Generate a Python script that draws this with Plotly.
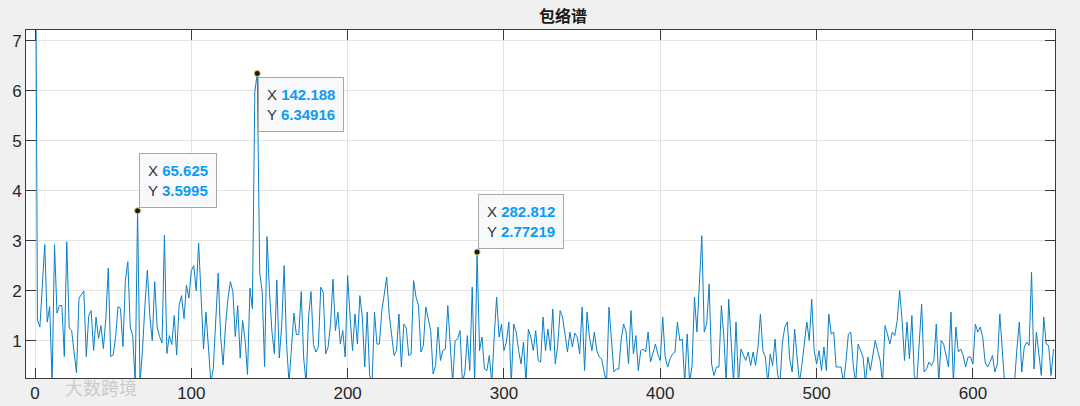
import plotly.graph_objects as go

TITLE = "包络谱"
FREQ_STEP = 1.5625  # frequency resolution of the spectrum

# Envelope spectrum amplitudes, split by frequency band
amp_0_57 = [12.0, 1.41, 1.27, 2.1, 2.92, 1.37, 1.68, 0.15, 2.92, 1.55,
            1.7, 1.7, 0.68, 2.98, 1.25, 1.2, 0.7, 0.35, 1.85, 1.93,
            1.99, 0.68, 1.5, 1.6, 0.8, 1.47, 1.04, 1.3, 0.84, 1.44,
            2.45, 0.68, 0.71, 1.08, 1.68, 1.64, 0.88]
amp_58_117 = [2.2, 2.58, 1.27,
              1.1, 0.15, 3.5995, 0.15, 0.8, 1.7, 2.41, 1.5, 1.0, 2.18,
              1.27, 1.08, 0.95, 3.11, 0.74, 1.1, 0.92, 1.5, 0.71, 1.7,
              1.9, 1.44, 2.11, 1.85, 2.4, 2.5, 2.0, 2.95, 1.8, 0.83,
              1.57, 0.83, 0.15, 0.45, 1.4, 2.35]
amp_119_178 = [1.08, 0.51, 1.3, 1.84,
               2.18, 1.98, 1.08, 1.7, 0.65, 1.4, 1.02, 0.32, 2.05, 1.64,
               5.99, 6.34916, 2.35, 1.98, 0.48, 3.08, 1.98, 1.18, 0.74, 2.21,
               0.65, 1.3, 2.5, 0.92, 0.15, 0.95, 1.55, 1.12, 1.12, 1.98,
               0.65, 0.15, 1.47, 1.98, 0.92]
amp_180_239 = [0.77, 0.87, 2.07, 1.97, 0.73,
               0.87, 1.33, 2.23, 1.2, 1.57, 0.93, 1.2, 0.67, 2.3, 1.47,
               0.8, 1.53, 0.93, 1.9, 1.47, 0.47, 1.57, 0.3, 0.15, 1.57,
               0.93, 0.93, 1.6, 1.93, 2.27, 1.53, 1.07, 0.7, 0.8, 1.53,
               0.47, 1.33, 1.25, 0.7]
amp_241_298 = [0.73, 2.2, 1.87, 1.7, 0.77, 0.9,
               1.67, 1.4, 1.2, 0.33, 0.5, 1.27, 0.6, 0.8, 0.83, 1.7,
               0.87, 0.15, 1.0, 1.03, 1.2, 0.15, 0.37, 1.1, 0.4, 2.07,
               0.15, 2.77219, 0.8, 1.07, 0.43, 0.4, 0.7, 0.15, 1.07, 1.87,
               1.07]
amp_298_359 = [1.33, 0.8, 0.97, 1.37, 0.15, 1.33, 1.17, 0.8, 0.53,
               0.97, 0.15, 1.23, 1.07, 0.8, 1.2, 0.6, 0.57, 1.47, 0.8,
               1.23, 0.8, 1.63, 0.53, 0.9, 1.6, 1.47, 1.07, 0.77, 1.17,
               0.87, 1.15, 1.07, 0.73, 1.67, 0.4, 1.57, 1.07, 0.8, 1.17,
               0.8]
amp_361_420 = [0.67, 0.63, 0.37, 0.15, 1.67, 1.07, 0.37, 0.43, 0.43,
               1.03, 1.33, 1.17, 0.53, 1.6, 0.73, 1.1, 0.4, 0.8, 0.83,
               0.77, 1.17, 0.57, 0.73, 0.93, 0.73, 0.6, 1.47, 0.67, 0.47,
               0.63, 0.73, 0.77, 1.37, 1.0, 1.03, 0.15, 1.13, 0.15, 0.5]
amp_422_480 = [1.87, 1.17, 2.2, 3.1, 1.17, 1.33, 2.13, 0.53, 0.3, 0.47,
               0.47, 1.7, 1.1, 0.15, 1.83, 1.0, 0.15, 1.37, 0.15, 0.83,
               0.7, 0.6, 0.77, 0.5, 0.77, 0.5, 0.87, 1.53, 0.8, 0.67,
               0.15, 0.73, 0.5, 1.03, 0.33, 0.15, 0.97, 1.27]
amp_481_539 = [1.37, 0.63,
               0.37, 1.23, 0.67, 0.15, 0.53, 1.0, 1.37, 1.0, 1.83, 0.8,
               0.53, 0.8, 0.4, 0.87, 0.4, 1.53, 1.13, 1.17, 0.47, 0.47,
               0.47, 0.15, 0.57, 1.13, 1.17, 0.5, 0.15, 0.93, 0.8, 0.67,
               0.15, 0.67, 0.4, 0.7, 1.0, 0.8]
amp_541_600 = [0.6, 0.15, 1.3, 1.13,
               0.93, 1.17, 1.1, 1.4, 2.0, 1.4, 0.6, 1.37, 0.63, 1.5,
               0.3, 0.15, 1.03, 1.73, 0.37, 0.43, 0.57, 0.5, 0.6, 1.33,
               0.15, 1.0, 0.93, 0.7, 0.47, 1.57, 0.15, 1.27, 0.77, 0.83,
               0.7, 0.47, 0.67, 0.67, 0.53]
amp_602_652 = [1.33, 1.17, 1.27, 1.07, 0.57,
               0.47, 0.57, 0.7, 0.37, 0.53, 1.53, 0.67, 0.12, 0.08, 0.1,
               0.12, 0.15, 0.83, 1.37, 0.37, 0.87, 0.97, 0.9, 2.37, 0.43,
               1.17, 0.67, 0.3, 1.47, 0.93, 0.9, 0.3, 0.83]

amplitude = (amp_0_57 + amp_58_117 + amp_119_178 + amp_180_239 + amp_241_298
             + amp_298_359 + amp_361_420 + amp_422_480 + amp_481_539
             + amp_541_600 + amp_602_652)
frequency = [i * FREQ_STEP for i in range(len(amplitude))]

# Data tips
tip_x = [65.625, 142.188, 282.812]
tip_y = [3.5995, 6.34916, 2.77219]
tip_x_text = ["65.625", "142.188", "282.812"]
tip_y_text = ["3.5995", "6.34916", "2.77219"]
tip_anchor = ["bottom", "top", "bottom"]

x_ticks = [0, 100, 200, 300, 400, 500, 600]
y_ticks = [1, 2, 3, 4, 5, 6, 7]
x_range = [-5.76, 652.5]
y_range = [0.25, 7.22]

LINE_BLUE = "#0a7fc6"
TIP_BLUE = "#0f9bf2"
AXIS_COL = "#3a3a3a"
GRID_COL = "#e3e3e3"
FONT = "Liberation Sans, Arial, sans-serif"

fig = go.Figure()
fig.add_trace(go.Scatter(x=frequency, y=amplitude, mode="lines",
                         line=dict(color=LINE_BLUE, width=1),
                         hoverinfo="skip", showlegend=False))
fig.add_trace(go.Scatter(x=tip_x, y=tip_y, mode="markers",
                         marker=dict(color="#1a1a1a", size=6,
                                     line=dict(color="#d9c860", width=1)),
                         hoverinfo="skip", showlegend=False))

for xv, yv, xt, yt, anc in zip(tip_x, tip_y, tip_x_text, tip_y_text, tip_anchor):
    fig.add_annotation(
        x=xv, y=yv, xref="x", yref="y", showarrow=False,
        xanchor="left", yanchor=anc,
        xshift=1, yshift=(3 if anc == "bottom" else -4),
        align="left",
        text=(f"<span style='color:#333333'>X</span> <b><span style='color:{TIP_BLUE}'>{xt}</span></b><br>"
              f"<span style='color:#333333'>Y</span> <b><span style='color:{TIP_BLUE}'>{yt}</span></b>"),
        font=dict(family=FONT, size=15, color="#333333"),
        bgcolor="#f8f9fb", bordercolor="#a8a8a8", borderwidth=1, borderpad=8,
    )

# faint watermark
fig.add_annotation(x=0.036, y=0.005, xref="paper", yref="paper", showarrow=False,
                   xanchor="left", yanchor="bottom", yshift=-26,
                   text="大数跨境",
                   font=dict(family="Noto Sans CJK SC", size=18, color="rgba(170,170,170,0.55)"))

fig.update_layout(
    width=1080, height=406,
    margin=dict(l=26, r=25, t=30, b=28, autoexpand=False),
    paper_bgcolor="#f0f0f0", plot_bgcolor="#ffffff",
    title=dict(text=TITLE, x=563 / 1080, xref="container", xanchor="center",
               y=1 - 16 / 406, yref="container", yanchor="middle",
               font=dict(family="Noto Sans CJK SC", size=16, color="#1a1a1a", weight="bold")),
    font=dict(family=FONT, size=17, color="#262626"),
)
fig.update_xaxes(range=x_range, tickvals=x_ticks, ticktext=[str(v) for v in x_ticks],
                 automargin=False,
                 showgrid=True, gridcolor=GRID_COL, gridwidth=1, zeroline=False,
                 showline=True, linecolor=AXIS_COL, linewidth=1, mirror="ticks",
                 ticks="inside", ticklen=10, tickcolor=AXIS_COL, tickwidth=1,
                 tickfont=dict(family=FONT, size=17, color="#262626"))
fig.update_yaxes(range=y_range, tickvals=y_ticks, ticktext=[str(v) for v in y_ticks],
                 automargin=False,
                 showgrid=True, gridcolor=GRID_COL, gridwidth=1, zeroline=False,
                 showline=True, linecolor=AXIS_COL, linewidth=1, mirror="ticks",
                 ticks="inside", ticklen=10, tickcolor=AXIS_COL, tickwidth=1,
                 tickfont=dict(family=FONT, size=17, color="#262626"))

fig.write_html("out.html", config={"displayModeBar": False},
               post_script="document.body.style.margin='0';document.body.style.overflow='hidden';")
